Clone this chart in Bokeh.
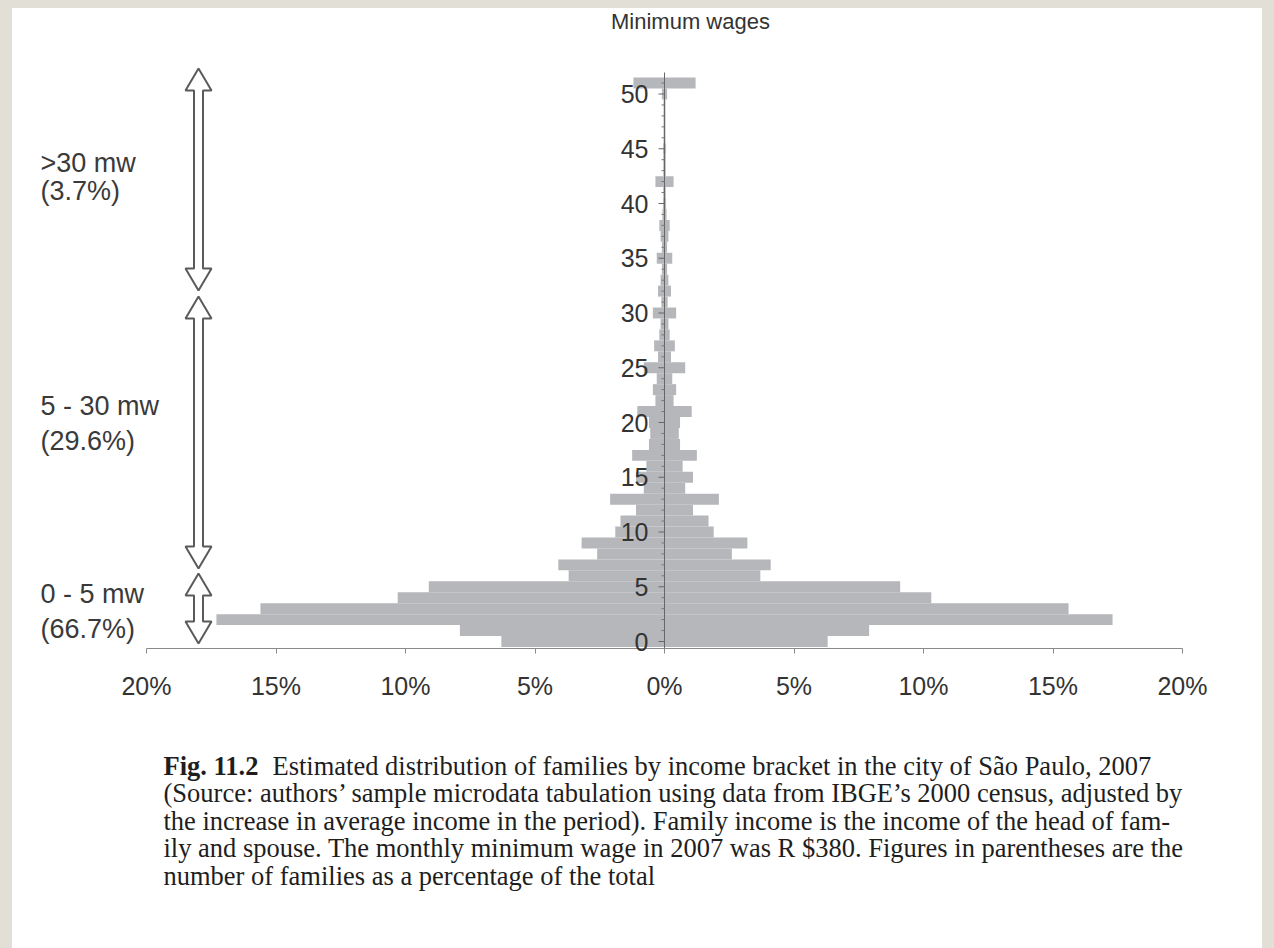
import numpy as np
from bokeh.plotting import figure
from bokeh.models import (Range1d, FixedTicker, Label, ColumnDataSource,
                          GlobalInlineStyleSheet)
from bokeh.core.properties import value
from bokeh.embed import file_html
from bokeh.resources import INLINE

# ---------------- data ----------------
mw_bracket = list(range(52))  # minimum-wage brackets (0 .. 51)
family_share_pct = [6.3, 7.9, 17.3, 15.6, 10.3, 9.1, 3.7, 4.1, 2.6, 3.2,
                    1.9, 1.7, 1.1, 2.1, 0.8, 1.1, 0.7, 1.25, 0.6, 0.55,
                    0.6, 1.05, 0.35, 0.45, 0.3, 0.8, 0.25, 0.4, 0.2, 0.15,
                    0.45, 0.12, 0.25, 0.15, 0.1, 0.3, 0.1, 0.15, 0.2, 0.08,
                    0.06, 0.05, 0.35, 0.05, 0.05, 0.06, 0.04, 0.04, 0.04, 0.04,
                    0.1, 1.2]
x_ticks = [-20, -15, -10, -5, 0, 5, 10, 15, 20]
x_tick_labels = ["20%", "15%", "10%", "5%", "0%", "5%", "10%", "15%", "20%"]
y_ticks = [0, 5, 10, 15, 20, 25, 30, 35, 40, 45, 50]
y_tick_labels = ["0", "5", "10", "15", "20", "25", "30", "35", "40", "45", "50"]
group_labels = [">30 mw", "5 - 30 mw", "0 - 5 mw"]
group_shares = ["(3.7%)", "(29.6%)", "(66.7%)"]

# ---------------- layout constants (page pixels) ----------------
PAD_L, PAD_T = 12, 8
W, H = 1250, 940
ML, MR, MT, MB = 20, 0, 0, 54
FL, FR = PAD_L + ML, PAD_L + W - MR          # frame left/right on page
FT, FB = PAD_T + MT, PAD_T + H - MB          # frame top/bottom on page
CX, SX = 664, 25.9                           # page x of 0 %, px per %
CY, SY = 641, 10.95                          # page y of bracket 0, px per bracket
X0, X1 = (FL - CX) / SX, (FR - CX) / SX
Y0, Y1 = (CY - FB) / SY, (CY - FT) / SY
AXIS_Y = (CY - 648) / SY                     # x-axis line position
Y_TOP = (CY - 72) / SY                       # top of y-axis line

def dx(px):
    return (px - CX) / SX

def dy(py):
    return (CY - py) / SY

p = figure(width=W, height=H, output_backend="svg", toolbar_location=None,
           x_range=Range1d(X0, X1), y_range=Range1d(Y0, Y1),
           y_axis_location=None,
           min_border_left=ML, min_border_right=MR,
           min_border_top=MT, min_border_bottom=MB)
p.background_fill_color = "white"
p.border_fill_color = "white"
p.outline_line_color = None
p.xgrid.visible = False
p.ygrid.visible = False
p.styles = {"background-color": "white"}
p.stylesheets = [GlobalInlineStyleSheet(
    css="html, body {background-color:#e2e0d6 !important;} "
        "body {padding:8px 12px 0px 12px !important;}")]

share = np.array(family_share_pct)
src = ColumnDataSource(dict(y=mw_bracket, left=-share, right=share))
p.hbar(y="y", left="left", right="right", height=1.0, source=src,
       fill_color="#b5b7bb", line_color=None)

# x axis (fixed at the bottom of the bars)
xa = p.xaxis[0]
xa.fixed_location = AXIS_Y
xa.ticker = FixedTicker(ticks=x_ticks)
xa.major_label_overrides = dict(zip(x_ticks, x_tick_labels))
xa.major_label_text_font = "Liberation Sans"
xa.major_label_text_font_size = "25px"
xa.major_label_text_color = "#333333"
xa.major_label_standoff = 18
xa.axis_line_color = None
xa.major_tick_line_color = "#8a8a8a"
xa.major_tick_in = 0
xa.major_tick_out = 5
xa.minor_tick_line_color = None
p.segment(x0=[x_ticks[0]], y0=[AXIS_Y], x1=[x_ticks[-1]], y1=[AXIS_Y],
          line_color="#8a8a8a", line_width=1)

# y axis drawn at x = 0: line, ticks and labels
p.segment(x0=[0], y0=[AXIS_Y], x1=[0], y1=[Y_TOP], line_color="#666666",
          line_width=1)
major_len = 6 / SX
minor_len = 3 / SX
minor_y = [b for b in mw_bracket if b not in y_ticks]
p.segment(x0=[-major_len] * len(y_ticks), y0=y_ticks, x1=[0] * len(y_ticks),
          y1=y_ticks, line_color="#666666", line_width=1)
p.segment(x0=[-minor_len] * len(minor_y), y0=minor_y, x1=[0] * len(minor_y),
          y1=minor_y, line_color="#777777", line_width=1)
p.text(x=[0] * len(y_ticks), y=y_ticks, text=y_tick_labels, x_offset=-16,
       text_align="right", text_baseline="middle", text_font_size="25px",
       text_color="#333333", text_font=value("Liberation Sans"))

# title above the axis
p.add_layout(Label(x=dx(690), y=dy(21), text="Minimum wages",
                   text_align="center", text_baseline="middle",
                   text_font="Liberation Sans", text_font_size="22px",
                   text_color="#333333"))

# double-headed bracket arrows
arrow_spans = [(dy(290), dy(68)), (dy(568), dy(296)), (dy(643), dy(573))]
ax = dx(198)
sw = 4.5 / SX
hw = 13 / SX
hl = 22 / SY
xs_list, ys_list = [], []
for lo, hi in arrow_spans:
    xs_list.append([ax, ax + hw, ax + sw, ax + sw, ax + hw, ax,
                    ax - hw, ax - sw, ax - sw, ax - hw])
    ys_list.append([hi, hi - hl, hi - hl, lo + hl, lo + hl, lo,
                    lo + hl, lo + hl, hi - hl, hi - hl])
p.patches(xs_list, ys_list, fill_color="white", line_color="#5a5a5a",
          line_width=2)

label_rows = [(162, 190), (405, 440), (593, 628)]
for (ly1, ly2), g, s in zip(label_rows, group_labels, group_shares):
    for ly, t in ((ly1, g), (ly2, s)):
        p.add_layout(Label(x=dx(40), y=dy(ly), text=t, text_align="left",
                           text_baseline="middle", text_font="Liberation Sans",
                           text_font_size="27px", text_color="#3a3a3a"))

# caption
cap_x = 163
cap_size = "26.5px"
cap_lines = [
    "(Source: authors\u2019 sample microdata tabulation using data from IBGE\u2019s 2000 census, adjusted by",
    "the increase in average income in the period). Family income is the income of the head of fam-",
    "ily and spouse. The monthly minimum wage in 2007 was R $380. Figures in parentheses are the",
    "number of families as a percentage of the total",
]
p.add_layout(Label(x=dx(cap_x), y=dy(765), text="Fig. 11.2", text_align="left",
                   text_baseline="middle", text_font="Liberation Serif",
                   text_font_style="bold", text_font_size=cap_size, text_color="#1e1e1e"))
p.add_layout(Label(x=dx(272), y=dy(765),
                   text="Estimated distribution of families by income bracket in the city of S\u00e3o Paulo, 2007",
                   text_align="left", text_baseline="middle", text_font="Liberation Serif",
                   text_font_size=cap_size, text_color="#1e1e1e"))
for i, line in enumerate(cap_lines):
    p.add_layout(Label(x=dx(cap_x), y=dy(792.5 + 27.5 * i), text=line, text_align="left",
                       text_baseline="middle", text_font="Liberation Serif",
                       text_font_size=cap_size, text_color="#1e1e1e"))

open("out.html", "w").write(file_html(p, INLINE))
